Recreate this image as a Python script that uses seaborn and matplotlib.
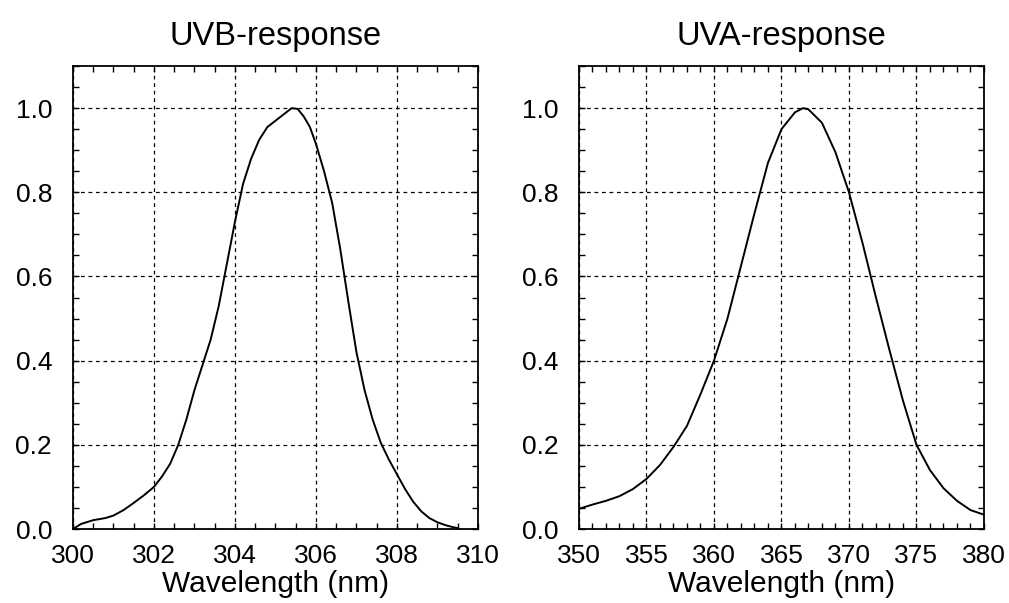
import matplotlib
matplotlib.use("Agg")
import matplotlib.pyplot as plt
from matplotlib.ticker import MultipleLocator, FormatStrFormatter
import pandas as pd
import seaborn as sns

# UVB response curve
uvb_wavelength = [300.0, 300.2, 300.5, 300.8, 301.0, 301.25, 301.5, 301.75, 302.0, 302.2,
                  302.4, 302.6, 302.8, 303.0, 303.2, 303.4, 303.6, 303.8, 304.0, 304.2,
                  304.4, 304.6, 304.8, 305.0, 305.2, 305.4, 305.55, 305.7, 305.85, 306.0,
                  306.2, 306.4, 306.6, 306.8, 307.0, 307.2, 307.4, 307.6, 307.8, 308.0,
                  308.2, 308.4, 308.6, 308.8, 309.0, 309.2, 309.4, 309.5]
uvb_response = [0.0, 0.012, 0.021, 0.026, 0.032, 0.045, 0.062, 0.08, 0.10, 0.125,
                0.155, 0.20, 0.26, 0.33, 0.39, 0.45, 0.53, 0.63, 0.73, 0.82,
                0.88, 0.925, 0.955, 0.97, 0.985, 1.0, 0.998, 0.98, 0.955, 0.915,
                0.85, 0.775, 0.665, 0.54, 0.42, 0.33, 0.26, 0.205, 0.165, 0.13,
                0.095, 0.065, 0.042, 0.026, 0.016, 0.009, 0.004, 0.002]

# UVA response curve
uva_wavelength = [350, 351, 352, 353, 354, 355, 356, 357, 358, 359,
                  360, 361, 362, 363, 364, 365, 366, 366.6, 367, 368,
                  369, 370, 371, 372, 373, 374, 375, 376, 377, 378,
                  379, 380]
uva_response = [0.048, 0.058, 0.067, 0.078, 0.095, 0.119, 0.152, 0.195, 0.245, 0.32,
                0.40, 0.50, 0.625, 0.75, 0.87, 0.95, 0.99, 1.0, 0.997, 0.965,
                0.895, 0.80, 0.68, 0.55, 0.425, 0.305, 0.20, 0.14, 0.097, 0.067,
                0.045, 0.034]

titles = ["UVB-response", "UVA-response"]
xlabel = "Wavelength (nm)"

sns.set_style("ticks")
plt.rcParams['font.family'] = ['Liberation Sans', 'DejaVu Sans']
plt.rcParams['text.color'] = 'black'
plt.rcParams['axes.labelcolor'] = 'black'
plt.rcParams['xtick.color'] = 'black'
plt.rcParams['ytick.color'] = 'black'

fig = plt.figure(figsize=(10.09, 6.03), dpi=100)
ax1 = fig.add_axes([0.0723, 0.1227, 0.4014, 0.7678])
ax2 = fig.add_axes([0.5738, 0.1227, 0.4014, 0.7678])

panels = [
    (ax1, uvb_wavelength, uvb_response, (300, 310), 2, 0.5),
    (ax2, uva_wavelength, uva_response, (350, 380), 5, 1),
]

for (ax, wl, resp, xlim, xmaj, xmin), title in zip(panels, titles):
    df = pd.DataFrame({"wavelength": wl, "response": resp})
    sns.lineplot(data=df, x="wavelength", y="response", ax=ax, color="black", linewidth=1.4)
    ax.set_xlim(*xlim)
    ax.set_ylim(0, 1.1)
    ax.xaxis.set_major_locator(MultipleLocator(xmaj))
    ax.xaxis.set_minor_locator(MultipleLocator(xmin))
    ax.yaxis.set_major_locator(MultipleLocator(0.2))
    ax.yaxis.set_minor_locator(MultipleLocator(0.05))
    ax.yaxis.set_major_formatter(FormatStrFormatter('%.1f'))
    ax.grid(True, which='major', color='black', linestyle=(0, (3, 3)), linewidth=0.9)
    ax.tick_params(which='both', direction='in', top=True, right=True,
                   length=4.5, width=1.0, color='black', labelcolor='black')
    ax.tick_params(axis='x', which='major', labelsize=19, pad=11)
    ax.tick_params(axis='y', which='major', labelsize=19, pad=15)
    for sp in ax.spines.values():
        sp.set_visible(True)
        sp.set_color('black')
        sp.set_linewidth(1.3)
    ax.set_xlabel(xlabel, fontsize=21.5, labelpad=1, color='black')
    ax.set_ylabel("")
    ax.set_title(title, fontsize=23.5, pad=15, color='black')

fig.savefig("out.png", dpi=100)
